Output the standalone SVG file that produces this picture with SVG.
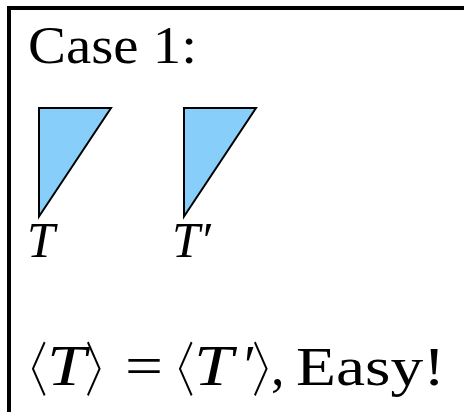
<svg xmlns="http://www.w3.org/2000/svg" width="464" height="412" viewBox="0 0 464 412">
<style>
.t{font-family:"Liberation Serif","DejaVu Serif",serif;fill:#000}
.m{font-style:italic}
.b{font-family:"Noto Sans CJK JP","Noto Sans CJK SC",sans-serif;font-weight:300;font-size:59px;fill:#000}
.tri{fill:#87CEFA;stroke:#000;stroke-width:2;stroke-linejoin:miter}
</style>
<rect x="9" y="8" width="480" height="430" fill="#fff" stroke="#000" stroke-width="4"/>
<g id="title"><text class="t" x="28" y="63" font-size="52" textLength="169" lengthAdjust="spacingAndGlyphs">Case 1:</text></g>
<g id="node-T"><polygon class="tri" points="39,108 111,108 39,216.5"/><text class="t m" x="27" y="257" font-size="50">T</text></g>
<g id="node-Tprime"><polygon class="tri" points="184,108 256,108 184,216.5"/><text class="t m" x="172" y="257" font-size="50">T′</text></g>
<g id="equation">
<text class="b" x="0" y="391" transform="matrix(0.67 0 0 1 8 0)">〈</text>
<text class="t m" x="47" y="385" font-size="57" textLength="39" lengthAdjust="spacingAndGlyphs">T</text>
<text class="b" x="0" y="391" transform="matrix(0.67 0 0 1 85 0)">〉</text>
<text class="t" x="125" y="385" font-size="56" textLength="38" lengthAdjust="spacingAndGlyphs">=</text>
<text class="b" x="0" y="391" transform="matrix(0.67 0 0 1 155 0)">〈</text>
<text class="t m" x="194" y="385" font-size="57" textLength="39" lengthAdjust="spacingAndGlyphs">T</text>
<text class="t" x="244" y="385" font-size="56">′</text>
<text class="b" x="0" y="391" transform="matrix(0.67 0 0 1 252 0)">〉</text>
<text class="t" x="271" y="385" font-size="54">,</text>
<text class="t" x="296" y="385" font-size="54" textLength="149" lengthAdjust="spacingAndGlyphs">Easy!</text>
</g>
</svg>
